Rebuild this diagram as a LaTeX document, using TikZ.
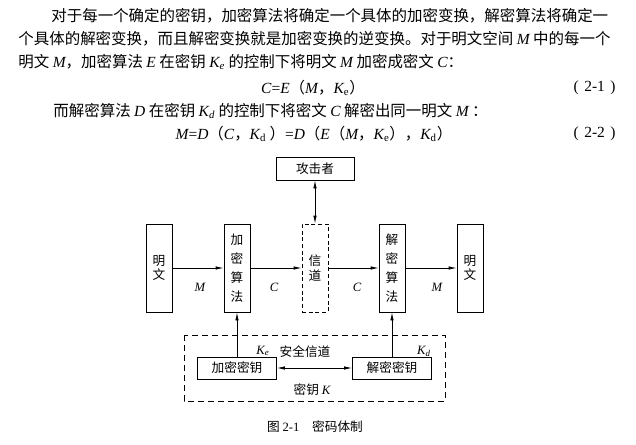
\documentclass[tikz,border=0pt]{standalone}
\usepackage{fontspec}
\setmainfont{Liberation Serif}
\newfontfamily\cjk{Noto Sans CJK SC}
\usetikzlibrary{arrows.meta}
\newcommand\vi[1]{{\rmfamily\itshape #1}}
\newcommand\kit[1]{{\rmfamily\itshape K\textsubscript{#1}}}
\newcommand\kup[1]{{\rmfamily\itshape K\textsubscript{\upshape #1}}}
\newcommand\eqsign{{\rmfamily =}}
\newcommand\eqnum[1]{{\rmfamily\makebox[31.5pt][s]{(\hfill #1\hfill)}}}
\begin{document}
\begin{tikzpicture}[x=0.75pt,y=-0.75pt,
  >={Latex[length=6pt,width=2.6pt]},
  txt/.style={anchor=west,inner sep=0pt,font=\cjk\fontsize{11.6}{14}\selectfont},
  eqn/.style={txt,anchor=center},
  num/.style={txt,anchor=east},
  box/.style={draw,line width=0.6pt,inner sep=0pt,align=center,font=\cjk\fontsize{9.5}{11}\selectfont},
  colbox/.style={box,minimum width=19.5pt,minimum height=66pt},
  keybox/.style={box,minimum width=59.25pt,minimum height=16.5pt},
  lbl/.style={inner sep=0pt,font=\cjk\fontsize{9.5}{11}\selectfont},
  line width=0.6pt]
\useasboundingbox (0,0) rectangle (636,444);

% text above the figure
\node[txt] (line1) at (51,16) {对于每一个确定的密钥，加密算法将确定一个具体的加密变换，解密算法将确定一};
\node[txt] (line2) at (18,39) {个具体的解密变换，而且解密变换就是加密变换的逆变换。对于明文空间 \vi{M} 中的每一个};
\node[txt] (line3) at (18,62) {明文 \vi{M}，加密算法 \vi{E} 在密钥 \kit{e} 的控制下将明文 \vi{M} 加密成密文 \vi{C}：};
\node[eqn] (eq1) at (313,88) {\vi{C}\eqsign\vi{E}（\vi{M}，\kup{e}）};
\node[num] (num1) at (616,88) {\eqnum{2-1}};
\node[txt] (line5) at (53,111) {而解密算法 \vi{D} 在密钥 \kit{d} 的控制下将密文 \vi{C} 解密出同一明文 \vi{M} ：};
\node[eqn] (eq2) at (314,134) {\vi{M}\eqsign\vi{D}（\vi{C}，\kup{d} ）\eqsign\vi{D}（\vi{E}（\vi{M}，\kup{e}），\kup{d}）};
\node[num] (num2) at (616,134) {\eqnum{2-2}};

% boxes
\node[box,minimum width=58.5pt,minimum height=17.25pt] (attacker) at (315,168.5) {攻击者};
\node[colbox] (plainL) at (159,268) {明\\文};
\node[colbox,font=\cjk\fontsize{9.5}{14.25}\selectfont] (enc) at (237,268) {加\\密\\算\\法};
\node[colbox,dash pattern=on 3pt off 2pt] (chan) at (315,268) {信\\道};
\node[colbox,font=\cjk\fontsize{9.5}{14.25}\selectfont] (dec) at (392,268) {解\\密\\算\\法};
\node[colbox] (plainR) at (470,268) {明\\文};
\node[keybox] (enckey) at (237,368) {加密密钥};
\node[keybox] (deckey) at (392,368) {解密密钥};
\draw[dash pattern=on 4.5pt off 3pt] (184,335) rectangle (445,401);

% arrows
\draw[->] (plainL) -- (enc);
\draw[->] (enc) -- (chan);
\draw[->] (chan) -- (dec);
\draw[->] (dec) -- (plainR);
\draw[<->] (attacker) -- (chan);
\draw[->] (enckey) -- (enc);
\draw[->] (deckey) -- (dec);
\draw[<->] (enckey) -- (deckey);

% labels
\node[lbl] (m1) at (200,287) {\vi{M}};
\node[lbl] (c1) at (274,287) {\vi{C}};
\node[lbl] (c2) at (357,287) {\vi{C}};
\node[lbl] (m2) at (437,287) {\vi{M}};
\node[lbl] (ke) at (263,351) {\kit{e}};
\node[lbl] (safe) at (305,352) {安全信道};
\node[lbl] (kd) at (424,351) {\kit{d}};
\node[lbl] (keyK) at (312,390) {密钥 \vi{K}};
\node[lbl] (caption) at (315,427) {图 {\rmfamily 2-1}　密码体制};
\end{tikzpicture}
\end{document}
